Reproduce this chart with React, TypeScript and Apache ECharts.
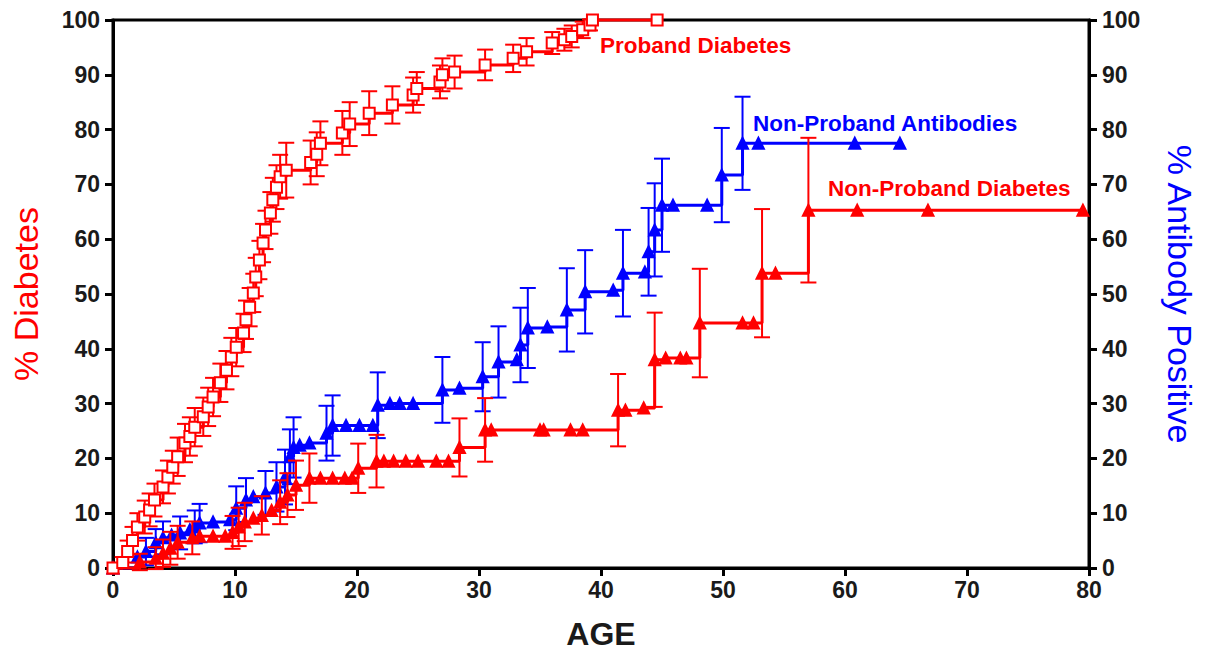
import React, { useEffect, useRef } from "react";
import * as echarts from "echarts";

// Proband diabetes: [age, %, error]
const probandDiabetes: number[][] = [
  [0, 0, 0], [0.8, 1, 1], [1.2, 3, 2], [1.6, 5, 2.5], [2, 7.5, 2.5], [2.6, 9.3, 3], [3, 10.6, 3],
  [3.4, 12.4, 3], [4.1, 14.8, 3], [4.5, 16.6, 3], [4.9, 18.4, 3], [5.3, 20.3, 3.5], [5.9, 22.8, 3.5],
  [6.3, 24, 3.5], [6.7, 25.7, 3.5], [7.4, 27.6, 3.5], [7.8, 29.4, 3.5], [8.2, 31.2, 3.5],
  [8.8, 33.8, 3.5], [9.3, 36.1, 3.5], [9.7, 38.5, 3.5], [10.1, 40.3, 3.5], [10.7, 42.9, 3.5],
  [10.9, 45.3, 3.5], [11.2, 47.6, 3.5], [11.5, 50.2, 3.5], [11.7, 53.1, 3.5], [12, 56.2, 3.5],
  [12.3, 59.3, 3.5], [12.5, 61.7, 3.5], [12.9, 64.8, 3.8], [13.1, 67.2, 4], [13.4, 69.5, 4],
  [13.7, 71.4, 4], [14.2, 72.6, 5], [16.2, 74, 4], [16.7, 75.5, 4], [17, 77.5, 4],
  [18.8, 79.4, 4], [19.4, 81, 4], [21, 83, 4], [22.9, 84.5, 3.4], [24.6, 86.3, 3.2],
  [24.9, 87.5, 3], [26.8, 88.7, 3], [27, 90, 3], [28, 90.5, 3], [30.5, 91.8, 2.8],
  [32.8, 93, 2.5], [33.9, 94.2, 2.5], [36, 95.8, 2], [37, 96.4, 2], [37.6, 97, 2],
  [38.5, 98.2, 1.5], [39.1, 99.1, 1], [39.3, 100, 0], [44.6, 100, 0],
];

// Non-proband antibodies: [age, %, error]
const nonProbandAntibodies: number[][] = [
  [0, 0, 0], [2, 2, 0], [2.7, 3, 2.5], [3.5, 4.6, 2.5], [4.1, 5.5, 3], [4.8, 6, 0], [5.5, 6.4, 3],
  [6.3, 7, 0], [6.7, 7.5, 3], [7.1, 8.2, 3.5], [8.2, 8.4, 0], [9.6, 8.8, 0], [10.1, 10.9, 4],
  [10.9, 12.4, 4], [11.5, 13, 0], [12.5, 13.7, 4], [13.4, 14.8, 4.5], [14.1, 16.6, 5],
  [14.5, 20.3, 5], [14.8, 22, 5.5], [15.3, 22.4, 0], [16.1, 22.8, 0], [17.5, 24.6, 5],
  [18, 26, 5.5], [19.1, 26, 0], [20.2, 26, 0], [21.3, 26, 0], [21.7, 29.7, 6], [22.7, 30, 0],
  [23.5, 30, 0], [24.6, 30, 0], [27, 32.5, 6], [28.4, 32.8, 0], [30.3, 34.9, 6.3],
  [31.6, 37.6, 6.5], [33.1, 38, 0], [33.4, 40.7, 6.8], [34, 43.8, 7.3], [35.6, 44, 0],
  [37.2, 47.1, 7.6], [38.7, 50.4, 7.6], [41, 50.7, 0], [41.8, 53.8, 7.9], [43.6, 54, 0],
  [43.9, 57.7, 8], [44.4, 61.7, 8.5], [45, 66.2, 8.5], [45.9, 66.2, 0], [48.7, 66.2, 0],
  [49.9, 71.7, 8.6], [51.6, 77.5, 8.5], [52.9, 77.5, 0], [60.8, 77.5, 0], [64.5, 77.5, 0],
];

// Non-proband diabetes: [age, %, error]
const nonProbandDiabetes: number[][] = [
  [0, 0, 0], [2.2, 1.1, 1.5], [3.5, 1.8, 2], [4.1, 2.7, 2.5], [4.7, 3.6, 3], [5.3, 4.7, 3],
  [6.5, 5.5, 3], [7.1, 5.8, 0], [8.2, 5.8, 0], [9.2, 5.8, 0], [9.8, 6.5, 3], [10.3, 7.5, 3.5],
  [10.8, 8.4, 3.5], [11.5, 9.1, 0], [12.2, 9.6, 3.5], [13, 10.5, 0], [13.7, 12, 4],
  [14.3, 13.3, 4], [15, 15.1, 4.5], [16.1, 16.4, 4.5], [17, 16.4, 0], [18, 16.4, 0],
  [19, 16.4, 0], [19.6, 16.4, 0], [20.1, 18.2, 4.5], [21.6, 19.5, 4.8], [22.2, 19.5, 0],
  [23, 19.5, 0], [24, 19.5, 0], [25, 19.5, 0], [26.5, 19.5, 0], [27.5, 19.5, 0],
  [28.4, 22, 5.3], [30.5, 25.2, 5.8], [31, 25.2, 0], [35, 25.2, 0], [35.3, 25.2, 0],
  [37.5, 25.2, 0], [38.5, 25.2, 0], [41.4, 28.8, 6.6], [42, 28.8, 0], [43.5, 29.2, 0],
  [44.4, 38, 8.6], [45.3, 38.3, 0], [46.5, 38.3, 0], [47, 38.3, 0], [48.1, 44.7, 9.9],
  [51.6, 44.7, 0], [52.5, 44.7, 0], [53.2, 53.8, 11.7], [54.3, 53.8, 0], [57, 65.3, 13.2],
  [61, 65.3, 0], [66.8, 65.3, 0], [79.5, 65.3, 0],
];

const xTicks = { min: 0, max: 80, interval: 10 };
const yTicks = { min: 0, max: 100, interval: 10 };

const RED = "#ff0000";
const BLUE = "#0000ff";
const FONT = "'Liberation Sans', Arial, Helvetica, sans-serif";

function errorData(rows: number[][]) {
  return rows.filter((r) => r[2] > 0).map((r) => [r[0], r[1] - r[2], r[1] + r[2]]);
}

function errorSeries(rows: number[][], color: string, yAxisIndex: number, z: number) {
  return {
    type: "custom",
    yAxisIndex,
    z,
    clip: false,
    silent: true,
    data: errorData(rows),
    renderItem: (params: any, api: any) => {
      const x = api.value(0);
      const top = api.coord([x, api.value(2)]);
      const bot = api.coord([x, api.value(1)]);
      const w = 8;
      const style = { stroke: color, lineWidth: 2 };
      return {
        type: "group",
        children: [
          { type: "line", shape: { x1: top[0], y1: top[1], x2: bot[0], y2: bot[1] }, style },
          { type: "line", shape: { x1: top[0] - w, y1: top[1], x2: top[0] + w, y2: top[1] }, style },
          { type: "line", shape: { x1: bot[0] - w, y1: bot[1], x2: bot[0] + w, y2: bot[1] }, style },
        ],
      };
    },
  };
}

function stepSeries(name: string, rows: number[][], color: string, symbol: string, size: number, yAxisIndex: number, z: number) {
  return {
    name,
    type: "line",
    step: "end",
    yAxisIndex,
    z,
    clip: false,
    data: rows.map((r) => [r[0], r[1]]),
    symbol,
    symbolSize: size,
    showAllSymbol: true,
    lineStyle: { color, width: 3 },
    itemStyle: { color, borderColor: color, borderWidth: 2 },
  };
}

const axisLabelStyle = { fontFamily: FONT, fontSize: 23, fontWeight: "bold", color: "#1a1a1a" };

export default function App() {
  const ref = useRef<HTMLDivElement>(null);
  useEffect(() => {
    document.body.style.margin = "0";
    if (!ref.current) return;
    const chart = echarts.init(ref.current, undefined, { renderer: "svg" });
    const yAxisBase = {
      type: "value",
      min: yTicks.min,
      max: yTicks.max,
      interval: yTicks.interval,
      splitLine: { show: false },
      axisLine: { show: true, lineStyle: { color: "#000", width: 3 } },
      axisTick: { show: true, length: 8, lineStyle: { color: "#000", width: 3 } },
      axisLabel: { ...axisLabelStyle, margin: 13 },
      nameLocation: "middle",
    };
    chart.setOption({
      animation: false,
      backgroundColor: "#ffffff",
      grid: { left: 113, right: 126, top: 20, bottom: 88, show: true, borderColor: "#000", borderWidth: 3, backgroundColor: "transparent" },
      xAxis: {
        type: "value",
        min: xTicks.min,
        max: xTicks.max,
        interval: xTicks.interval,
        name: "AGE",
        nameLocation: "middle",
        nameGap: 50,
        nameTextStyle: { fontFamily: FONT, fontSize: 32, fontWeight: "bold", color: "#1a1a1a" },
        splitLine: { show: false },
        axisLine: { show: true, lineStyle: { color: "#000", width: 3 } },
        axisTick: { show: true, length: 8, lineStyle: { color: "#000", width: 3 } },
        axisLabel: { ...axisLabelStyle, margin: 10 },
      },
      yAxis: [
        {
          ...yAxisBase,
          position: "left",
          name: "% Diabetes",
          nameGap: 70,
          nameTextStyle: { fontFamily: FONT, fontSize: 34, color: RED },
        },
        {
          ...yAxisBase,
          position: "right",
          name: "% Antibody Positive",
          nameGap: 74,
          nameRotate: -90,
          nameTextStyle: { fontFamily: FONT, fontSize: 34, color: BLUE },
        },
      ],
      series: [
        errorSeries(nonProbandAntibodies, BLUE, 1, 2),
        stepSeries("Non-Proband Antibodies", nonProbandAntibodies, BLUE, "triangle", 11, 1, 3),
        errorSeries(nonProbandDiabetes, RED, 0, 4),
        stepSeries("Non-Proband Diabetes", nonProbandDiabetes, RED, "triangle", 11, 0, 5),
        errorSeries(probandDiabetes, RED, 0, 6),
        stepSeries("Proband Diabetes", probandDiabetes, RED, "emptyRect", 11, 0, 7),
      ],
      graphic: [
        { type: "text", left: 600, top: 34, style: { text: "Proband Diabetes", fill: RED, font: `bold 22.5px ${FONT}` } },
        { type: "text", left: 753, top: 112, style: { text: "Non-Proband Antibodies", fill: BLUE, font: `bold 22.5px ${FONT}` } },
        { type: "text", left: 828, top: 177, style: { text: "Non-Proband Diabetes", fill: RED, font: `bold 22.5px ${FONT}` } },
      ],
    });
    return () => chart.dispose();
  }, []);
  return <div ref={ref} style={{ width: 1215, height: 656 }} />;
}
